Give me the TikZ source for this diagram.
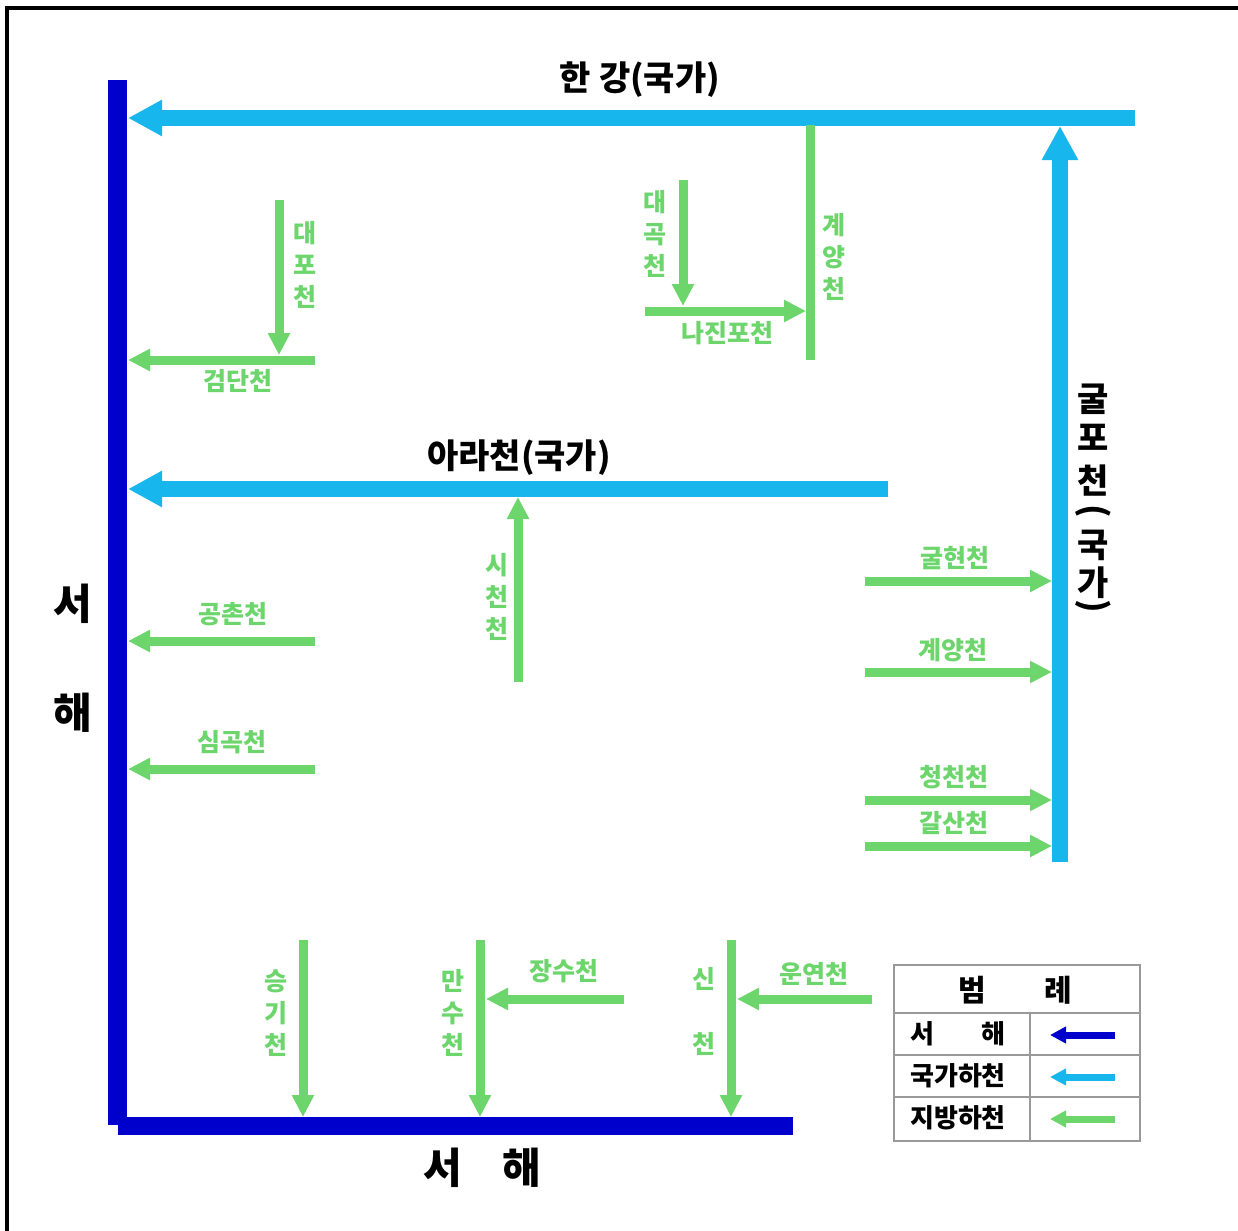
\documentclass[tikz,border=0pt]{standalone}
\usepackage{fontspec}
\setmainfont{Noto Sans CJK KR}
\usetikzlibrary{arrows.meta}
\definecolor{sea}{RGB}{0,0,204}
\definecolor{nat}{RGB}{23,183,238}
\definecolor{loc}{RGB}{108,214,108}
\tikzset{
 natA/.style={draw=nat,line width=8pt,-{Triangle[length=17pt,width=17pt]}},
 locA/.style={draw=loc,line width=4.5pt,-{Triangle[length=11pt,width=10.5pt]}},
 locL/.style={draw=loc,line width=4.5pt},
 title/.style={font=\bfseries\fontsize{17}{20}\selectfont,text=black,inner sep=0pt},
 seatext/.style={font=\bfseries\fontsize{21}{24}\selectfont,text=black,inner sep=0pt},
 lab/.style={font=\bfseries\fontsize{12.5}{16}\selectfont,text=loc,inner sep=0pt,align=center},
 leg/.style={font=\bfseries\fontsize{13}{16}\selectfont,text=black,inner sep=0pt},
 legA/.style={line width=3.5pt,-{Triangle[length=8pt,width=8pt]}},
}
\begin{document}
\begin{tikzpicture}[x=0.5pt,y=-0.5pt]
\useasboundingbox (0,0) rectangle (1238,1231);
\fill[white] (0,0) rectangle (1238,1231);
% frame
\draw[line width=1.75pt] (7,1231) -- (7,8) -- (1238,8);
% West sea
\fill[sea] (108,80) rectangle (127,1125);
\fill[sea] (118,1117) rectangle (793,1135);
\node[seatext] (seaL1) at (73,604) {서};
\node[seatext] (seaL2) at (73,713) {해};
\node[seatext] (seaB1) at (443,1168) {서};
\node[seatext] (seaB2) at (522,1168) {해};
% national rivers
\coordinate (hanE) at (1135,118); \coordinate (hanW) at (128,118);
\coordinate (gulS) at (1060,862); \coordinate (gulN) at (1060,126);
\coordinate (araE) at (888,489); \coordinate (araW) at (128,489);
\draw[natA] (hanE) -- (hanW);
\draw[natA] (gulS) -- (gulN);
\draw[natA] (araE) -- (araW);
\node[title] (han) at (640,80) {한 강(국가)};
\node[title] (ara) at (519,458) {아라천(국가)};
\node[title] (g1) at (1093,399) {굴};
\node[title] (g2) at (1093,437) {포};
\node[title] (g3) at (1093,481) {천};
\node[title] (g4) at (1093,511) {\rotatebox{-90}{(}};
\node[title] (g5) at (1093,545) {국};
\node[title] (g6) at (1093,583) {가};
\node[title] (g7) at (1093,606) {\rotatebox{-90}{)}};
% local rivers
\draw[locA] (279,200) -- (279,355);
\draw[locA] (315,360) -- (128,360);
\draw[locA] (683,180) -- (683,306);
\draw[locA] (645,311) -- (806,311);
\draw[locL] (810,125) -- (810,360);
\draw[locA] (518,682) -- (518,497);
\draw[locA] (315,641) -- (128,641);
\draw[locA] (315,769) -- (128,769);
\draw[locA] (865,581) -- (1052,581);
\draw[locA] (865,672) -- (1052,672);
\draw[locA] (865,800) -- (1052,800);
\draw[locA] (865,846) -- (1052,846);
\draw[locA] (303,940) -- (303,1117);
\draw[locA] (480,940) -- (480,1117);
\draw[locA] (624,999) -- (486,999);
\draw[locA] (731,940) -- (731,1117);
\draw[locA] (872,999) -- (737,999);
% local labels
\node[lab] (daepo) at (305,265) {대\\포\\천};
\node[lab] (geomdan) at (238,381) {검단천};
\node[lab] (daegok) at (655,234) {대\\곡\\천};
\node[lab] (najin) at (727,333) {나진포천};
\node[lab] (gyeA) at (834,257) {계\\양\\천};
\node[lab] (sicheon) at (497,597) {시\\천\\천};
\node[lab] (gongchon) at (233,614) {공촌천};
\node[lab] (simgok) at (232,742) {심곡천};
\node[lab] (gulhyeon) at (955,558) {굴현천};
\node[lab] (gyeB) at (953,650) {계양천};
\node[lab] (cheongcheon) at (954,777) {청천천};
\node[lab] (galsan) at (954,823) {갈산천};
\node[lab] (seunggi) at (276,1013) {승\\기\\천};
\node[lab] (mansu) at (453,1013) {만\\수\\천};
\node[lab] (jangsu) at (564,971) {장수천};
\node[lab] (sin1) at (704,979) {신};
\node[lab] (sin2) at (704,1044) {천};
\node[lab] (unyeon) at (814,974) {운연천};
% legend
\draw[gray!80,line width=0.8pt] (894,965) rectangle (1140,1141);
\draw[gray!80,line width=0.8pt] (894,1013) -- (1140,1013) (894,1055) -- (1140,1055) (894,1097) -- (1140,1097) (1030,1013) -- (1030,1141);
\node[leg,font=\bfseries\fontsize{15}{18}\selectfont] (lh1) at (972,990) {범};
\node[leg,font=\bfseries\fontsize{15}{18}\selectfont] (lh2) at (1058,990) {례};
\node[leg] (l1a) at (922,1034) {서};
\node[leg] (l1b) at (993,1034) {해};
\node[leg] (l2) at (958,1076) {국가하천};
\node[leg] (l3) at (958,1118) {지방하천};
\draw[legA,draw=sea] (1115,1035) -- (1050,1035);
\draw[legA,draw=nat] (1115,1077) -- (1050,1077);
\draw[legA,draw=loc] (1115,1119) -- (1050,1119);
\end{tikzpicture}
\end{document}
